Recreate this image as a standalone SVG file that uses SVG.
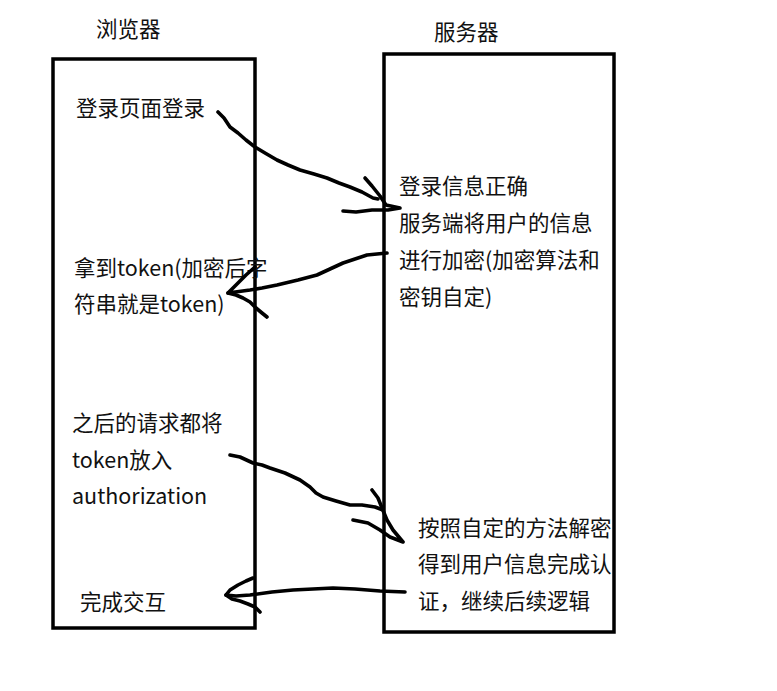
<svg xmlns="http://www.w3.org/2000/svg" width="777" height="691" viewBox="0 0 777 691">
<style>
.box{fill:none;stroke:#000;stroke-width:3.5}
.t{font-family:"Microsoft YaHei","Noto Sans CJK SC","Noto Sans",sans-serif;font-size:21.5px;fill:#111}
.ink{fill:none;stroke:#000;stroke-width:3.6;stroke-linecap:round;stroke-linejoin:round}
</style>
<rect width="777" height="691" fill="#fff"/>
<g id="browser">
<rect class="box" x="53" y="59" width="202" height="569"/>
<text class="t" x="96" y="37">浏览器</text>
<text class="t" x="76" y="116">登录页面登录</text>
<text class="t" x="74" y="276">拿到token(加密后字</text>
<text class="t" x="74" y="312">符串就是token)</text>
<text class="t" x="72" y="431">之后的请求都将</text>
<text class="t" x="72" y="468">token放入</text>
<text class="t" x="72" y="504">authorization</text>
<text class="t" x="80" y="610">完成交互</text>
</g>
<g id="server">
<rect class="box" x="384" y="54" width="230" height="578"/>
<text class="t" x="434" y="40">服务器</text>
<text class="t" x="399" y="194">登录信息正确</text>
<text class="t" x="399" y="231">服务端将用户的信息</text>
<text class="t" x="399" y="268">进行加密(加密算法和</text>
<text class="t" x="399" y="305">密钥自定)</text>
<text class="t" x="418" y="536">按照自定的方法解密</text>
<text class="t" x="418" y="572">得到用户信息完成认</text>
<text class="t" x="418" y="609">证，继续后续逻辑</text>
</g>
<g id="connectors">
<path class="ink" d="M218,112 L224,118 L230,127 L238,133 L246,140 L255,147 L265,153 L277,160 L288,165 L300,170 L314,174 L327,178 L339,183 L350,187 L362,192 L373,198 L378,199"/>
<path class="ink" d="M365,178 L372,186 L380,196 L386,205 L400,208 L388,210 L372,210 L356,212 L343,211"/>
<path class="ink" d="M387,253 L377,254 L367,255 L355,259 L343,263 L330,269 L317,275 L298,280 L277,285 L262,288 L250,290 L228,293 L238,283 L246,275 L255,267"/>
<path class="ink" d="M228,293 L236,295 L243,298 L250,302 L256,308 L262,313 L267,317"/>
<path class="ink" d="M230,455 L240,457 L253,463 L262,465 L270,468 L285,473 L300,480 L310,487 L316,493 L323,497 L336,501 L350,505 L362,505 L375,507 L383,510"/>
<path class="ink" d="M372,490 L378,498 L382,508 L387,520 L393,530 L403,542 L390,537 L380,530 L368,523 L353,520"/>
<path class="ink" d="M405,592 L380,591 L355,589 L333,588 L313,589 L293,590 L272,592 L250,595 L236,596 L226,595 L230,590 L238,585 L246,581 L253,578"/>
<path class="ink" d="M226,595 L232,599 L240,601 L248,604 L255,607 L260,612"/>
</g>
</svg>
